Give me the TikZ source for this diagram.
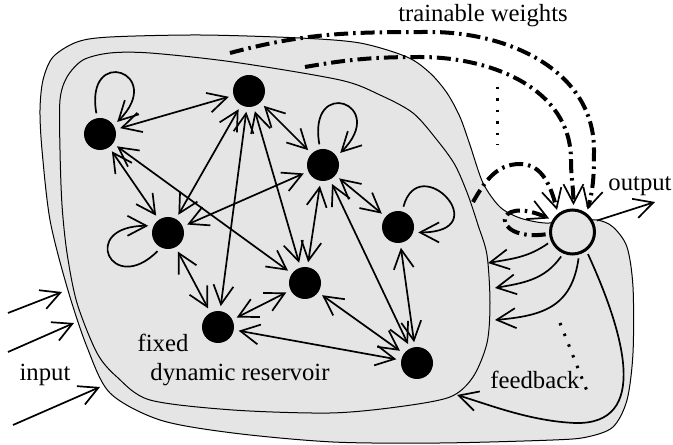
\documentclass[tikz,border=0pt]{standalone}
\usepackage{fontspec}
\setmainfont{Liberation Serif}
\usetikzlibrary{arrows.meta}

\begin{document}
\begin{tikzpicture}[x=1pt,y=1pt,
  >={Straight Barb[length=19pt,width=20pt]},
  neuron/.style={circle,fill=black,minimum size=32pt,inner sep=0pt,outer sep=5pt},
  readout/.style={circle,draw=black,line width=3pt,fill=gray!20,minimum size=44pt,inner sep=0pt,outer sep=5pt},
  syn/.style={<->,line width=1.7pt},
  wire/.style={->,line width=1.7pt},
  blob/.style={fill=gray!20,draw=black,line width=1pt},
  trained/.style={-{Straight Barb[length=19pt,width=20pt,line width=1.7pt]},line width=4pt,
    dash pattern=on 14pt off 5pt on 2.5pt off 5pt},
  more/.style={line width=3pt,dash pattern=on 2.5pt off 9pt},
  lbl/.style={font=\fontsize{24.7}{28}\selectfont,inner sep=0pt}]

\useasboundingbox (0,0) rectangle (673,445);

% outer region (reservoir plus readout)
\draw[blob] plot[smooth cycle,tension=0.5] coordinates {
  (42,295) (40,335) (43,365) (53,388) (77,403) (110,408) (200,410) (300,407)
  (360,402) (407,388) (430,372) (447,352) (460,328) (470,300) (483,262)
  (500,238) (520,227) (545,222) (572,224) (597,225) (613,218) (627,198)
  (633,158) (633,92) (627,45) (613,18) (587,8) (553,5) (440,2) (333,3)
  (233,12) (160,25) (110,52) (87,98) (67,158) (50,225)};

% inner region: the fixed reservoir
\draw[blob] plot[smooth cycle,tension=0.5] coordinates {
  (437,305) (455,280) (468,250) (478,220) (487,190) (490,142) (487,102)
  (473,68) (450,48) (397,38) (330,32) (233,35) (150,45) (117,68) (97,92)
  (77,142) (67,192) (62,240) (60,295) (60,345) (67,368) (83,385) (110,392)
  (150,392) (233,383) (340,365) (380,350) (413,332)};

% reservoir units
\node[neuron] (A) at (100,311) {};
\node[neuron] (B) at (249,354) {};
\node[neuron] (C) at (323,280) {};
\node[neuron] (D) at (168,212) {};
\node[neuron] (E) at (398,218) {};
\node[neuron] (F) at (305,162) {};
\node[neuron] (G) at (218,118) {};
\node[neuron] (H) at (417,82) {};

% readout unit
\node[readout] (O) at (572.5,213) {};

% recurrent connections
\foreach \u/\v in {A/B,A/D,A/F,B/C,B/D,B/G,B/F,C/D,C/E,C/F,C/H,D/G,E/H,F/G,F/H,G/H}
  \draw[syn] (\u) -- (\v);

% self connections
\draw[wire] (A.100) .. controls +(100:70) and +(45:70) .. (A.35);
\draw[wire] (C.100) .. controls +(100:70) and +(45:70) .. (C.35);
\draw[wire] (E.75) .. controls +(75:60) and +(0:80) .. (E.-15);
\draw[wire] (D.-120) .. controls +(-135:65) and +(180:70) .. (D.160);

% trainable readout weights
\coordinate (w1) at (230,392);
\coordinate (w2) at (305,378);
\coordinate (w3) at (473,243);
\draw[trained] (w1) to[out=15,in=180] (430,413) to[out=0,in=90] (594,295) to[out=-90,in=75] (O.56);
\draw[trained] (w2) to[out=10,in=180] (420,388) to[out=0,in=90] (571,285) to[out=-90,in=90] (O.88);
\draw[trained] (w3) to[out=60,in=180] (520,281) to[out=0,in=105] (O.125);
\draw[trained] (O.185) .. controls (490,203) and (492,252) .. (O.150);
\draw[more] (497,358) -- (497,300);

% feedback from the readout
\coordinate (fb1) at (488,182);
\coordinate (fb2) at (495,157);
\coordinate (fb3) at (495,125);
\coordinate (fb4) at (457,50);
\draw[wire] (O.205) to[out=215,in=10] (fb1);
\draw[wire] (O.245) to[out=235,in=10] (fb2);
\draw[wire] (O.283) to[out=262,in=5,looseness=1.2] (fb3);
\draw[wire] (O.305) .. controls (625,110) and (650,20) .. (575,22)
            .. controls (530,24) and (490,40) .. (fb4);
\draw[more] (560,122) -- (587,54);

% output
\coordinate (outtip) at (655,243);
\draw[wire] (O.25) -- (outtip);

% inputs
\coordinate (i1s) at (8,132);  \coordinate (i1e) at (62,153);
\coordinate (i2s) at (8,93);   \coordinate (i2e) at (74,122);
\coordinate (i3s) at (13,20);  \coordinate (i3e) at (100,58);
\draw[wire] (i1s) -- (i1e);
\draw[wire] (i2s) -- (i2e);
\draw[wire] (i3s) -- (i3e);

% labels
\node[lbl] (tw)  at (483,429) {trainable weights};
\node[lbl] (out) at (640,259) {output};
\node[lbl] (inp) at (45,70)   {input};
\node[lbl] (fx)  at (163,102) {fixed};
\node[lbl] (dr)  at (240,70)  {dynamic reservoir};
\node[lbl] (fbk) at (535,65)  {feedback};
\end{tikzpicture}
\end{document}
